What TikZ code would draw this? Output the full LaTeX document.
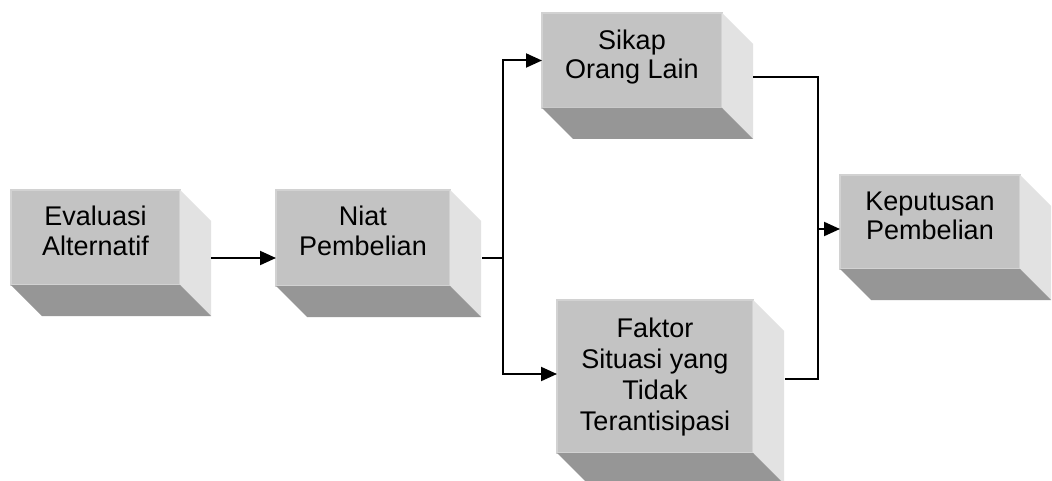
\documentclass[tikz,border=0pt]{standalone}
\usepackage{fontspec}
\setmainfont{Liberation Sans}
\usetikzlibrary{arrows.meta,calc}
\definecolor{frontgray}{RGB}{195,195,195}
\definecolor{bottomgray}{RGB}{150,150,150}
\definecolor{sidegray}{RGB}{226,226,226}
\definecolor{bevelgray}{RGB}{210,210,210}
\tikzset{
  front/.style={draw=bevelgray, line width=1.5pt, fill=frontgray, inner sep=0pt, outer sep=0pt},
  label2/.style={font=\fontsize{27}{29.5}\selectfont, align=center, inner sep=0pt, text=black},
  label4/.style={font=\fontsize{27}{31}\selectfont, align=center, inner sep=0pt, text=black},
  arr/.style={-{Triangle[length=16pt,width=14pt]}, line width=2pt},
  ln/.style={line width=2pt},
}
\newcommand{\extrude}[1]{%
  \fill[sidegray] (#1.north east) -- ++(31,31) -- ([shift={(31,31)}]#1.south east) -- (#1.south east) -- cycle;
  \fill[bottomgray] (#1.south west) -- (#1.south east) -- ([shift={(31,31)}]#1.south east) -- ([shift={(31,31)}]#1.south west) -- cycle;
}
\begin{document}
\begin{tikzpicture}[x=1pt,y=-1pt]
\useasboundingbox (0,0) rectangle (1052,481);
\clip (0,0) rectangle (1052,481);
\fill[white] (0,0) rectangle (1052,481);

% front faces
\node[front, minimum width=169pt, minimum height=95pt] (ev) at (95.5,237.5) {};
\node[front, minimum width=174pt, minimum height=96pt] (niat) at (363,238) {};
\node[front, minimum width=180pt, minimum height=95pt] (sikap) at (632,60.5) {};
\node[front, minimum width=196pt, minimum height=153pt] (faktor) at (655,376.5) {};
\node[front, minimum width=180pt, minimum height=94pt] (kep) at (930,222) {};
\extrude{ev}
\extrude{niat}
\extrude{sikap}
\extrude{faktor}
\extrude{kep}

% texts
\node[label2] (ev-t) at (95.5,231) {Evaluasi\\Alternatif};
\node[label2] (niat-t) at (363,231) {Niat\\Pembelian};
\node[label2] (sikap-t) at (632,57) {Sikap\\Orang Lain};
\node[label4] (faktor-t) at (655,377) {Faktor\\Situasi yang\\Tidak\\Terantisipasi};
\node[label2] (kep-t) at (930,216) {Keputusan\\Pembelian};

% connector points
\coordinate (ev-o) at ([shift={(31,20.5)}]ev.east);
\coordinate (niat-o) at ([shift={(32,20)}]niat.east);
\coordinate (sikap-o) at ([shift={(31,16.5)}]sikap.east);
\coordinate (faktor-o) at ([shift={(32,2.5)}]faktor.east);
\coordinate (j1) at ($(niat-o)+(21,0)$);
\coordinate (j2) at (818,229);

% connectors
\draw[arr] (ev-o) -- (ev-o -| niat.west);
\draw[ln] (niat-o) -- (j1);
\draw[arr] (j1) |- (sikap.west);
\draw[arr] (j1) |- ([yshift=2.5]faktor.west);
\draw[ln] (sikap-o) -| (j2);
\draw[ln] (faktor-o) -| (j2);
\draw[arr] (j2) -- (j2 -| kep.west);
\end{tikzpicture}
\end{document}
